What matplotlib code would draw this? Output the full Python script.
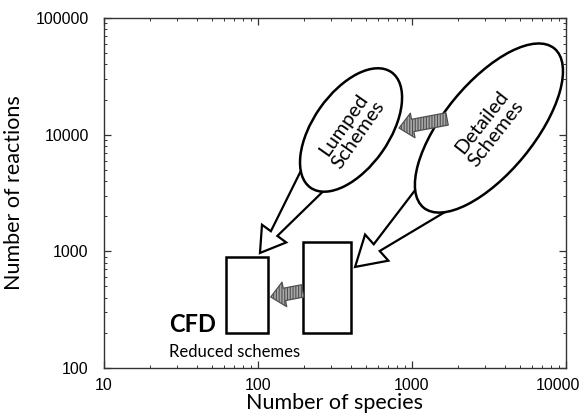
import numpy as np
import matplotlib
matplotlib.use("Agg")
import matplotlib.pyplot as plt
from matplotlib.patches import Ellipse, Rectangle, Polygon
from matplotlib.transforms import IdentityTransform, ScaledTranslation

# axis ranges (log-log)
x_range = [10, 10000]
y_range = [100, 100000]

# reduced-scheme boxes: (x_min, x_max, y_min, y_max) in species / reactions
box_cfd = [62, 116, 200, 900]
box_reduced = [195, 400, 200, 1200]

# ellipse centres (species, reactions)
lumped_xy = [402, 10970]
detailed_xy = [3160, 11400]

# white callout arrows: tail (inside ellipse) -> tip
lumped_tail = [249, 4790]
lumped_tip = [103, 968]
detailed_tail = [1450, 3100]
detailed_tip = [427, 735]

# hatched arrows: tail -> tip
hatch1_tail = [1690, 13640]
hatch1_tip = [824, 11400]
hatch2_tail = [195, 458]
hatch2_tip = [121, 406]

tick_font = "Liberation Sans"
text_font = "Lato"

plt.rcParams["hatch.linewidth"] = 0.8

fig = plt.figure(figsize=(5.83, 4.16), dpi=100)
ax = fig.add_axes([0.1784, 0.1154, 0.7924, 0.8413])
ax.set_xscale("log")
ax.set_yscale("log")
ax.set_xlim(x_range)
ax.set_ylim(y_range)

ax.set_xticks([10, 100, 1000, 10000])
ax.set_xticklabels(["10", "100", "1000", "10000"])
ax.set_yticks([100, 1000, 10000, 100000])
ax.set_yticklabels(["100", "1000", "10000", "100000"])
ax.tick_params(which="both", direction="in", top=True, right=True, colors="#333333")
ax.tick_params(which="major", length=5, width=0.9, labelsize=11.5, labelcolor="black")
ax.tick_params(which="minor", length=2.5, width=0.7)
ax.tick_params(axis="x", which="major", pad=7)
ax.tick_params(axis="y", which="major", pad=11)
for lab in ax.get_xticklabels() + ax.get_yticklabels():
    lab.set_fontfamily(tick_font)
# nudge the last x label so it stays inside the figure
last = ax.get_xticklabels()[-1]
last.set_transform(last.get_transform() + ScaledTranslation(-6 / 72, 0, fig.dpi_scale_trans))
for sp in ax.spines.values():
    sp.set_color("#333333")
    sp.set_linewidth(1.0)

ax.set_xlabel("Number of species", fontsize=15.5, fontfamily=text_font, labelpad=0)
ax.set_ylabel("Number of reactions", fontsize=15.5, fontfamily=text_font, labelpad=8)

# boxes
for b in (box_cfd, box_reduced):
    ax.add_patch(Rectangle((b[0], b[2]), b[1] - b[0], b[3] - b[2],
                           fc="white", ec="black", lw=1.8, zorder=3))

ax.text(26.4, 237, "CFD", fontsize=17, fontweight="bold", fontfamily=text_font,
        ha="left", va="center")
ax.text(26.4, 137, "Reduced schemes", fontsize=12, fontfamily=text_font,
        ha="left", va="center")


def px(p):
    return ax.transData.transform(p)


def callout(tail, tip, w_tail, w_neck, w_head, head_len):
    t = px(tail)
    p = px(tip)
    u = (p - t) / np.hypot(*(p - t))
    n = np.array([-u[1], u[0]])
    b = p - u * head_len
    pts = [t + n * w_tail / 2, b + n * w_neck / 2, b + n * w_head / 2, p,
           b - n * w_head / 2, b - n * w_neck / 2, t - n * w_tail / 2]
    ax.add_patch(Polygon(pts, closed=True, fc="white", ec="black", lw=1.6,
                         transform=IdentityTransform(), zorder=4, clip_on=False))


callout(lumped_tail, lumped_tip, 34, 8, 30, 24)
callout(detailed_tail, detailed_tip, 40, 9, 35, 29)

# ellipses drawn in pixel space so the rotation is not skewed by log scaling
ax.add_patch(Ellipse(px(lumped_xy), 141, 76, angle=55, fc="white", ec="black",
                     lw=1.8, transform=IdentityTransform(), zorder=5, clip_on=False))
ax.add_patch(Ellipse(px(detailed_xy), 206, 90, angle=50.6, fc="white", ec="black",
                     lw=1.8, transform=IdentityTransform(), zorder=5, clip_on=False))
ax.text(*lumped_xy, "Lumped\nSchemes", rotation=55, fontsize=14.5, fontfamily=text_font,
        ha="center", va="center", rotation_mode="anchor", zorder=6, linespacing=1.05)
ax.text(*detailed_xy, "Detailed\nSchemes", rotation=52, fontsize=14.5, fontfamily=text_font,
        ha="center", va="center", rotation_mode="anchor", zorder=6, linespacing=1.05)

# hatched grey arrows
for tail, tip in ((hatch1_tail, hatch1_tip), (hatch2_tail, hatch2_tip)):
    ax.annotate("", xy=tip, xytext=tail,
                arrowprops=dict(arrowstyle="simple,head_width=1.8,head_length=1.0,tail_width=0.9",
                                mutation_scale=10, fc="#a8a8a8", ec="#505050", lw=0.9,
                                hatch="||||||", shrinkA=0, shrinkB=0),
                zorder=6)

fig.savefig("out.png", dpi=100)
